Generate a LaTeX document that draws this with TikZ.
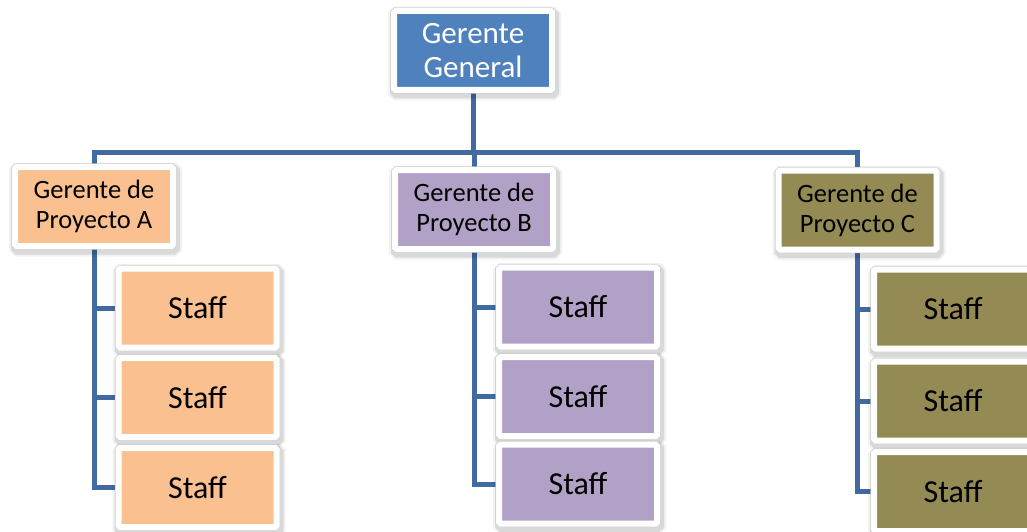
\documentclass[tikz,border=0pt]{standalone}
\usepackage{fontspec}
\setmainfont{Carlito}
\usetikzlibrary{backgrounds}
\definecolor{linec}{RGB}{64,106,160}
\definecolor{cblue}{RGB}{79,129,189}
\definecolor{corange}{RGB}{250,192,144}
\definecolor{cpurple}{RGB}{178,161,199}
\definecolor{colive}{RGB}{148,138,84}
\begin{document}
\begin{tikzpicture}[x=1pt,y=-1pt,
  box/.style={draw=white, line width=6pt, rounded corners=1.5pt,
    minimum width=158pt, minimum height=79pt, inner sep=0pt, align=center,
    preaction={draw=black, draw opacity=0.05, line width=15pt, transform canvas={xshift=1.5pt, yshift=-3pt}},
    preaction={draw=black, draw opacity=0.10, line width=11pt, transform canvas={xshift=1.5pt, yshift=-3pt}},
    preaction={draw=black!18, line width=7.2pt}},
  topbox/.style={box, fill=cblue, text=white, font=\fontsize{31}{34}\selectfont},
  projbox/.style={box, text=black, font=\fontsize{26.5}{30}\selectfont},
  staffbox/.style={box, text=black, minimum height=79pt, font=\fontsize{32}{36}\selectfont},
  conn/.style={draw=linec, line width=5pt, line join=miter}]
\useasboundingbox (0,0) rectangle (1027,532);
\node[topbox] (gg) at (473,50.5) {Gerente\\General};
\node[projbox, fill=corange] (pa) at (94,206.5) {Gerente de\\Proyecto A};
\node[projbox, fill=cpurple] (pb) at (474,209.5) {Gerente de\\Proyecto B};
\node[projbox, fill=colive] (pc) at (857.5,210) {Gerente de\\Proyecto C};
\node[staffbox, fill=corange] (a1) at (197.5,308) {Staff};
\node[staffbox, fill=corange] (a2) at (197.5,397.5) {Staff};
\node[staffbox, fill=corange] (a3) at (197.5,487.5) {Staff};
\node[staffbox, fill=cpurple] (b1) at (578,307) {Staff};
\node[staffbox, fill=cpurple] (b2) at (578,396.5) {Staff};
\node[staffbox, fill=cpurple] (b3) at (578,484) {Staff};
\node[staffbox, fill=colive] (c1) at (953,309) {Staff};
\node[staffbox, fill=colive] (c2) at (953,401) {Staff};
\node[staffbox, fill=colive] (c3) at (953,491.5) {Staff};
\coordinate (bar) at (473,152);
\begin{scope}[on background layer]
  \draw[conn] (gg) -- (gg |- bar);
  \draw[conn] (pa) -- (pa |- bar) -- (pc |- bar) -- (pc);
  \draw[conn] (pb |- bar) -- (pb);
  \draw[conn] (pa) -- (pa |- a3) -- (a3);
  \draw[conn] (pa |- a1) -- (a1);
  \draw[conn] (pa |- a2) -- (a2);
  \draw[conn] (pb) -- (pb |- b3) -- (b3);
  \draw[conn] (pb |- b1) -- (b1);
  \draw[conn] (pb |- b2) -- (b2);
  \draw[conn] (pc) -- (pc |- c3) -- (c3);
  \draw[conn] (pc |- c1) -- (c1);
  \draw[conn] (pc |- c2) -- (c2);
\end{scope}
\end{tikzpicture}
\end{document}
